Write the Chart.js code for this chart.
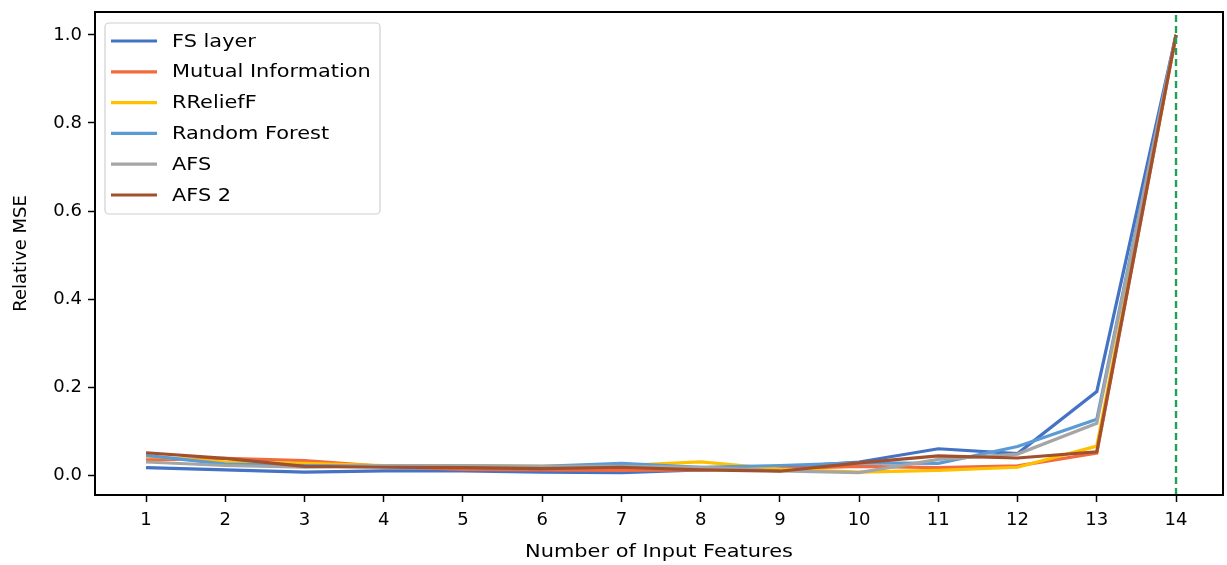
<!DOCTYPE html>
<html>
<head>
<meta charset="utf-8">
<script src="https://cdn.jsdelivr.net/npm/chart.js@4/dist/chart.umd.min.js"></script>
<style>
	html, body { margin: 0; padding: 0; background: #fff; }
	#wrap { width: 1227px; height: 565px; position: relative; }
</style>
</head>
<body>
<div id="wrap"><canvas id="c"></canvas></div>
<script>
const features = [1, 2, 3, 4, 5, 6, 7, 8, 9, 10, 11, 12, 13, 14];
const yTicks = [0.0, 0.2, 0.4, 0.6, 0.8, 1.0];

const fsLayer      = [0.017, 0.012, 0.007, 0.010, 0.010, 0.007, 0.006, 0.012, 0.018, 0.030, 0.060, 0.049, 0.190, 1.0];
const mutualInfo   = [0.035, 0.038, 0.033, 0.020, 0.013, 0.012, 0.011, 0.012, 0.015, 0.020, 0.017, 0.021, 0.050, 1.0];
const rrelieff     = [0.043, 0.030, 0.027, 0.022, 0.022, 0.020, 0.022, 0.030, 0.014, 0.007, 0.011, 0.018, 0.066, 1.0];
const randomForest = [0.045, 0.025, 0.022, 0.020, 0.020, 0.020, 0.027, 0.018, 0.022, 0.028, 0.027, 0.065, 0.127, 1.0];
const afs          = [0.030, 0.022, 0.018, 0.022, 0.022, 0.020, 0.020, 0.018, 0.010, 0.006, 0.036, 0.048, 0.118, 1.0];
const afs2         = [0.051, 0.038, 0.020, 0.018, 0.017, 0.015, 0.018, 0.012, 0.009, 0.028, 0.044, 0.039, 0.053, 1.0];

const seriesNames = ["FS layer", "Mutual Information", "RReliefF", "Random Forest", "AFS", "AFS 2"];
const seriesValues = [fsLayer, mutualInfo, rrelieff, randomForest, afs, afs2];
const seriesColors = ["#4472C4", "#F26B3F", "#FFC000", "#5B9BD5", "#A5A5A5", "#A0502C"];

const allFeatures = 14;
const xMin = 0.356, xMax = 14.593;
const yMin = -0.045, yMax = 1.052;

const font = "DejaVu Sans";
const stretch = 1.16; // horizontal text is a bit wide in this layout

function lineDatasets() {
	return seriesValues.map((values, i) => ({
		label: seriesNames[i],
		data: features.map((f, j) => ({ x: f, y: values[j] })),
		borderColor: seriesColors[i],
		borderWidth: 3.2,
		pointRadius: 0,
		tension: 0,
		order: 10 - i
	}));
}

function wideText(ctx, text, x, y) {
	ctx.save();
	ctx.translate(x, y);
	ctx.scale(stretch, 1);
	ctx.fillText(text, 0, 0);
	ctx.restore();
}

// frame around the plot area plus both axis titles
const frame = {
	id: "frame",
	afterDraw(chart) {
		const a = chart.chartArea, ctx = chart.ctx;
		ctx.save();
		ctx.strokeStyle = "#000";
		ctx.lineWidth = 2;
		ctx.strokeRect(a.left, a.top, a.right - a.left, a.bottom - a.top);

		ctx.fillStyle = "#000";
		ctx.font = "18px '" + font + "'";
		ctx.textAlign = "center";
		ctx.textBaseline = "middle";
		wideText(ctx, "Number of Input Features", (a.left + a.right) / 2, 552);

		ctx.translate(21, (a.top + a.bottom) / 2);
		ctx.rotate(-Math.PI / 2);
		ctx.fillText("Relative MSE", 0, 0);
		ctx.restore();
	}
};

// legend box in the upper left corner
const insetLegend = {
	id: "insetLegend",
	afterDraw(chart) {
		const ctx = chart.ctx, a = chart.chartArea;
		const x = a.left + 10, y = a.top + 11, w = 275, h = 191, r = 4;
		ctx.save();
		ctx.fillStyle = "rgba(255,255,255,0.85)";
		ctx.strokeStyle = "#d0d0d0";
		ctx.lineWidth = 1.2;
		ctx.beginPath();
		ctx.roundRect(x, y, w, h, r);
		ctx.fill();
		ctx.stroke();
		ctx.font = "18px '" + font + "'";
		ctx.textBaseline = "middle";
		ctx.fillStyle = "#000";
		seriesNames.forEach((name, i) => {
			const cy = y + 18 + i * 30.8;
			ctx.strokeStyle = seriesColors[i];
			ctx.lineWidth = 3.2;
			ctx.beginPath();
			ctx.moveTo(x + 6, cy);
			ctx.lineTo(x + 52, cy);
			ctx.stroke();
			wideText(ctx, name, x + 67, cy + 1);
		});
		ctx.restore();
	}
};

new Chart(document.getElementById("c"), {
	type: "line",
	data: {
		datasets: [
			...lineDatasets(),
			{
				label: "all features",
				data: [{ x: allFeatures, y: yMin }, { x: allFeatures, y: yMax }],
				borderColor: "#22A05A",
				borderWidth: 2.4,
				borderDash: [7, 4],
				pointRadius: 0,
				order: 0
			}
		]
	},
	options: {
		responsive: true,
		maintainAspectRatio: false,
		animation: false,
		layout: { padding: { top: 12, right: 4, left: 0, bottom: 0 } },
		plugins: {
			legend: { display: false },
			tooltip: { enabled: false }
		},
		scales: {
			x: {
				type: "linear",
				min: xMin,
				max: xMax,
				afterBuildTicks: scale => { scale.ticks = features.map(v => ({ value: v })); },
				afterFit: scale => {
					scale.height = 70;
					scale.paddingLeft = 0;
					scale.paddingRight = 0;
				},
				grid: {
					drawOnChartArea: false,
					drawTicks: true,
					tickLength: 7,
					tickWidth: 1.5,
					tickColor: "#000"
				},
				border: { display: false },
				ticks: {
					color: "#000",
					font: { family: font, size: 18 },
					padding: 8,
					maxRotation: 0,
					callback: v => String(v)
				}
			},
			y: {
				type: "linear",
				min: yMin,
				max: yMax,
				afterBuildTicks: scale => { scale.ticks = yTicks.map(v => ({ value: v })); },
				afterFit: scale => {
					scale.width = 95;
					scale.paddingTop = 0;
					scale.paddingBottom = 0;
				},
				grid: {
					drawOnChartArea: false,
					drawTicks: true,
					tickLength: 7,
					tickWidth: 1.5,
					tickColor: "#000"
				},
				border: { display: false },
				ticks: {
					color: "#000",
					font: { family: font, size: 18 },
					padding: 6,
					callback: v => v.toFixed(1)
				}
			}
		}
	},
	plugins: [frame, insetLegend]
});
</script>
</body>
</html>
